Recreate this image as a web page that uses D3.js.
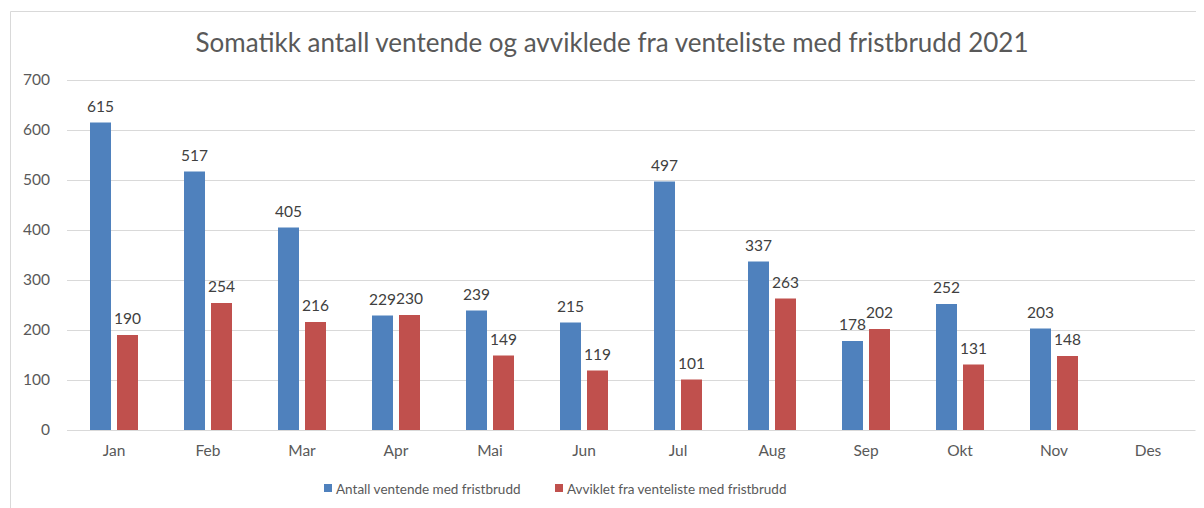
<!DOCTYPE html>
<html lang="no">
<head>
<meta charset="UTF-8">
<title>Somatikk fristbrudd 2021</title>
<script src="https://d3js.org/d3.v7.min.js"></script>
<style>
  body { margin: 0; background: #fff; }
  text { font-family: Lato, "Open Sans", sans-serif; }
</style>
</head>
<body>
<script>
// data
const months = ["Jan", "Feb", "Mar", "Apr", "Mai", "Jun", "Jul", "Aug", "Sep", "Okt", "Nov", "Des"];
const ventende = [615, 517, 405, 229, 239, 215, 497, 337, 178, 252, 203, null];
const avviklet = [190, 254, 216, 230, 149, 119, 101, 263, 202, 131, 148, null];
const yTicks = [0, 100, 200, 300, 400, 500, 600, 700];
const seriesNames = ["Antall ventende med fristbrudd", "Avviklet fra venteliste med fristbrudd"];
const colors = ["#4F81BD", "#C0504D"];

const W = 1204, H = 508;
const plotL = 67, plotR = 1195, plotT = 80, plotB = 430;

const svg = d3.select("body").append("svg")
  .attr("width", W).attr("height", H);

// chart frame
svg.append("path")
  .attr("d", `M10.5,${H} V11.5 H1196`)
  .attr("fill", "none").attr("stroke", "#d9d9d9").attr("stroke-width", 1);

svg.append("text")
  .attr("x", 612).attr("y", 52)
  .attr("text-anchor", "middle")
  .attr("font-size", 26).attr("fill", "#595959")
  .text("Somatikk antall ventende og avviklede fra venteliste med fristbrudd 2021");

const x = d3.scaleBand().domain(months).range([plotL, plotR]);
const y = d3.scaleLinear().domain([0, 700]).range([plotB, plotT]);

// gridlines + y labels
const yAxis = svg.append("g").attr("transform", `translate(${plotL},0)`)
  .call(d3.axisLeft(y).tickValues(yTicks).tickSize(-(plotR - plotL)).tickPadding(17));
yAxis.select(".domain").remove();
yAxis.selectAll(".tick line").attr("stroke", "#d9d9d9");
yAxis.selectAll(".tick text").attr("font-size", 15.5).attr("fill", "#595959")
  .attr("font-family", "Lato, sans-serif");

// x axis
const xAxis = svg.append("g").attr("transform", `translate(0,${plotB})`)
  .call(d3.axisBottom(x).tickSize(0).tickPadding(15));
xAxis.select(".domain").attr("stroke", "#d9d9d9");
xAxis.selectAll(".tick text").attr("font-size", 15.5).attr("fill", "#595959")
  .attr("font-family", "Lato, sans-serif");

const barW = 21, gap = 6;
const series = [ventende, avviklet];

series.forEach((vals, si) => {
  const off = si === 0 ? -(barW + gap / 2) : gap / 2;
  const pts = months.map((m, i) => ({ m, v: vals[i] })).filter(d => d.v != null);
  const g = svg.append("g");
  g.selectAll("rect").data(pts).join("rect")
    .attr("x", d => x(d.m) + x.bandwidth() / 2 + off)
    .attr("y", d => y(d.v))
    .attr("width", barW)
    .attr("height", d => y(0) - y(d.v))
    .attr("fill", colors[si]);
  g.selectAll("text").data(pts).join("text")
    .attr("x", d => x(d.m) + x.bandwidth() / 2 + off + barW / 2)
    .attr("y", d => y(d.v) - 11)
    .attr("text-anchor", "middle")
    .attr("font-size", 15.5).attr("fill", "#404040")
    .text(d => d.v);
});

// legend
const legendX = [324, 555];
seriesNames.forEach((name, i) => {
  svg.append("rect")
    .attr("x", legendX[i]).attr("y", 484)
    .attr("width", 8).attr("height", 8)
    .attr("fill", colors[i]);
  svg.append("text")
    .attr("x", legendX[i] + 12).attr("y", 494)
    .attr("font-size", 13.5).attr("fill", "#595959")
    .text(name);
});
</script>
</body>
</html>
